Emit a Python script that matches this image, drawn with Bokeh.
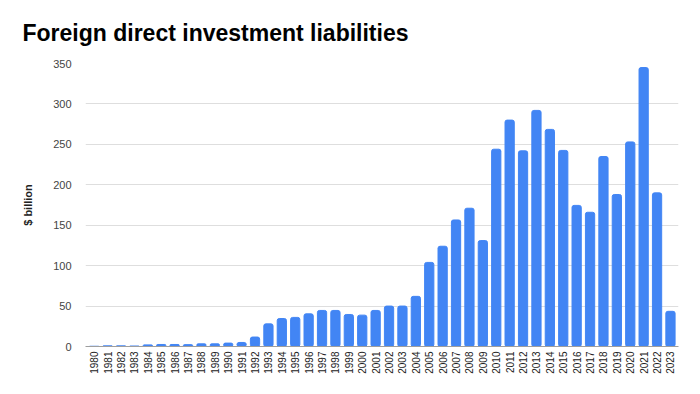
import math
from bokeh.plotting import figure
from bokeh.models import Range1d, FixedTicker
from bokeh.embed import file_html
from bokeh.resources import INLINE

years = list(range(1980, 2024))
values = [0.3, 0.8, 0.8, 0.6, 2.0, 2.5, 2.5, 2.3, 3.3, 3.3,
          4.2, 5.0, 11.7, 28.0, 34.6, 36.0, 40.4, 44.6, 44.6, 39.6,
          38.8, 44.6, 50.0, 50.0, 62.0, 104.0, 124.0, 156.5, 171.0, 131.0,
          244.0, 280.0, 242.0, 292.0, 268.5, 242.5, 174.5, 166.0, 235.0, 188.0,
          253.0, 345.0, 190.0, 43.5]
y_ticks = [0, 50, 100, 150, 200, 250, 300, 350]
title_text = "Foreign direct investment liabilities"
y_label = "$ billion"

p = figure(width=684, height=378, output_backend="svg", toolbar_location=None,
           x_range=Range1d(1979.35, 2023.6), y_range=Range1d(0, 350),
           min_border_left=85, min_border_right=6, min_border_top=62, min_border_bottom=32)

p.vbar(x=years, top=values, width=0.69, color="#4285F4", border_radius=2)

p.title.text = title_text
p.title.text_font = "Liberation Sans"
p.title.text_font_size = "23px"
p.title.text_font_style = "bold"
p.title.text_color = "#000000"
p.title.align = "left"
p.title.offset = -63
p.title.standoff = 35

p.outline_line_color = None
p.xgrid.visible = False
p.ygrid.grid_line_color = "#dedede"
p.ygrid.ticker = FixedTicker(ticks=y_ticks)

p.yaxis.ticker = FixedTicker(ticks=y_ticks)
p.yaxis.axis_line_color = None
p.yaxis.major_tick_line_color = None
p.yaxis.minor_tick_line_color = None
p.yaxis.major_tick_out = 0
p.yaxis.major_label_text_font = "Liberation Sans"
p.yaxis.major_label_text_font_size = "11px"
p.yaxis.major_label_text_color = "#444444"
p.yaxis.major_label_standoff = 14
p.yaxis.axis_label = y_label
p.yaxis.axis_label_text_font = "Liberation Sans"
p.yaxis.axis_label_text_font_size = "11px"
p.yaxis.axis_label_text_font_style = "bold"
p.yaxis.axis_label_text_color = "#222222"
p.yaxis.axis_label_standoff = 16

p.xaxis.ticker = FixedTicker(ticks=years)
p.xaxis.major_label_overrides = {y: str(y) for y in years}
p.xaxis.major_label_orientation = math.pi / 2
p.xaxis.axis_line_color = "#9e9e9e"
p.xaxis.major_tick_line_color = None
p.xaxis.minor_tick_line_color = None
p.xaxis.major_tick_out = 0
p.xaxis.major_label_text_font = "Liberation Sans"
p.xaxis.major_label_text_font_size = "10px"
p.xaxis.major_label_text_color = "#222222"
p.xaxis.major_label_standoff = 5

open("out.html", "w").write(file_html(p, INLINE))
